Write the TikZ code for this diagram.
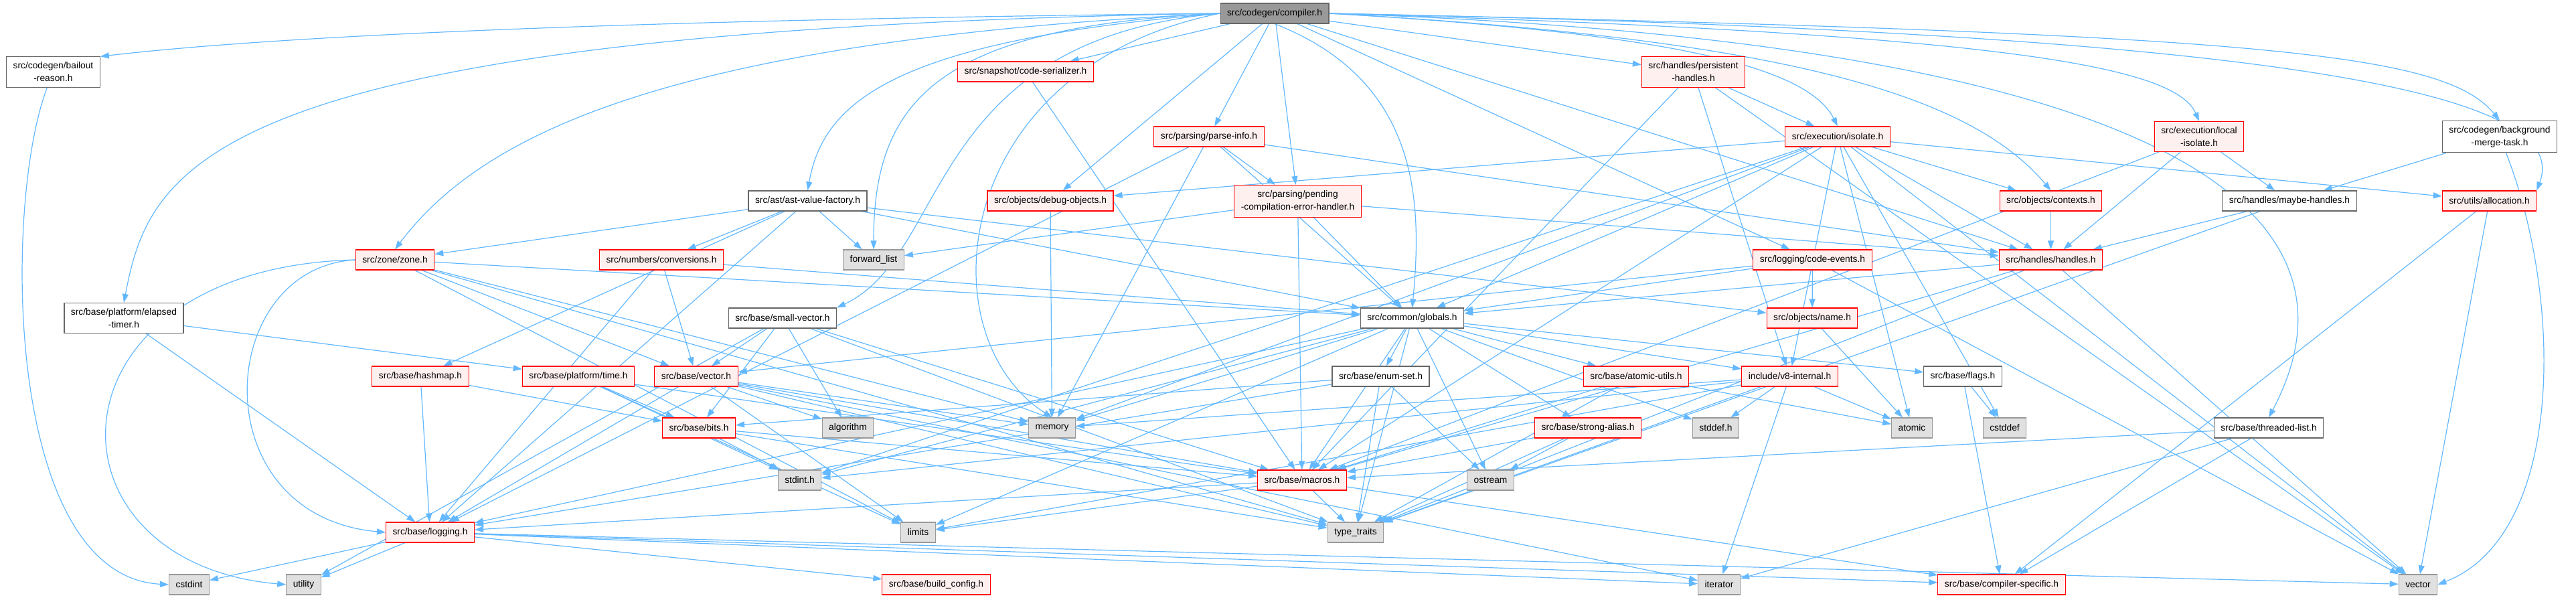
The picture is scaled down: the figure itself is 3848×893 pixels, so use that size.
\documentclass[tikz,border=0pt]{standalone}
\usepackage{fontspec}
\setmainfont{Liberation Sans}
\usetikzlibrary{arrows.meta,backgrounds}
\definecolor{edgeblue}{RGB}{99,184,255}
\definecolor{redfill}{RGB}{255,240,240}
\definecolor{sysfill}{RGB}{224,224,224}
\definecolor{sysline}{RGB}{153,153,153}
\definecolor{hdrline}{RGB}{102,102,102}
\definecolor{rootfill}{RGB}{153,153,153}

\begin{document}
\begin{tikzpicture}[x=1pt,y=-1pt,
  file/.style={draw=hdrline,fill=white,line width=1.1pt,
    font=\fontsize{13.8}{19}\selectfont,inner xsep=10pt,inner ysep=8pt,
    minimum height=30pt,align=center},
  redfile/.style={file,draw=red,fill=redfill},
  sysfile/.style={file,draw=sysline,fill=sysfill},
  rootfile/.style={file,fill=rootfill},
  incl/.style={draw=edgeblue,line width=1.2pt,-{Triangle[length=13pt,width=9pt]}}]
  \useasboundingbox (0,0) rectangle (3848,893);

  %% top rows
  \node[rootfile] (compiler) at (1904,20) {src/codegen/compiler.h};
  \node[file] (bailout) at (79.5,107.5) {src/codegen/bailout\\-reason.h};
  \node[redfile] (codeser) at (1532,107) {src/snapshot/code-serializer.h};
  \node[redfile] (persist) at (2529.5,107.5) {src/handles/persistent\\-handles.h};
  \node[file] (bgmerge) at (3734,204) {src/codegen/background\\-merge-task.h};
  \node[redfile] (localiso) at (3285,204) {src/execution/local\\-isolate.h};
  \node[redfile] (isolate) at (2745,204) {src/execution/isolate.h};
  \node[redfile] (parseinfo) at (1806,204) {src/parsing/parse-info.h};
  \node[file] (astvf) at (1206.5,300) {src/ast/ast-value-factory.h};
  \node[redfile] (debugobj) at (1569,300) {src/objects/debug-objects.h};
  \node[redfile] (pending) at (1938.5,300.5) {src/parsing/pending\\-compilation-error-handler.h};
  \node[redfile] (contexts) at (3063.5,300) {src/objects/contexts.h};
  \node[file] (maybeh) at (3420,300) {src/handles/maybe-handles.h};
  \node[redfile] (alloc) at (3718.5,300) {src/utils/allocation.h};

  %% middle rows
  \node[redfile] (zone) at (590,388) {src/zone/zone.h};
  \node[redfile] (conv) at (988,388) {src/numbers/conversions.h};
  \node[sysfile] (fwdlist) at (1305,388) {forward\_list};
  \node[redfile] (codeev) at (2707.5,388) {src/logging/code-events.h};
  \node[redfile] (handles) at (3063.5,388) {src/handles/handles.h};
  \node[file] (elapsed) at (185,475) {src/base/platform/elapsed\\-timer.h};
  \node[file] (smallvec) at (1169,475) {src/base/small-vector.h};
  \node[file] (globals) at (2109.5,475) {src/common/globals.h};
  \node[redfile] (name) at (2707,475) {src/objects/name.h};
  \node[redfile] (hashmap) at (628,562) {src/base/hashmap.h};
  \node[redfile] (ptime) at (864,562) {src/base/platform/time.h};
  \node[redfile] (bvector) at (1040,562) {src/base/vector.h};
  \node[file] (enumset) at (2062.5,562) {src/base/enum-set.h};
  \node[redfile] (atomicu) at (2444,562) {src/base/atomic-utils.h};
  \node[redfile] (v8int) at (2673.5,562) {include/v8-internal.h};
  \node[file] (bflags) at (2932,562) {src/base/flags.h};

  %% bottom rows
  \node[redfile] (bits) at (1044,639) {src/base/bits.h};
  \node[sysfile] (algorithm) at (1266.5,639) {algorithm};
  \node[sysfile] (memory) at (1571.5,639) {memory};
  \node[redfile] (strongal) at (2372,639) {src/base/strong-alias.h};
  \node[sysfile] (stddefh) at (2563,639) {stddef.h};
  \node[sysfile] (atomic) at (2856,639) {atomic};
  \node[sysfile] (cstddef) at (2994.5,639) {cstddef};
  \node[file] (thlist) at (3389,639) {src/base/threaded-list.h};
  \node[sysfile] (stdinth) at (1194.5,717) {stdint.h};
  \node[redfile] (macros) at (1945,717) {src/base/macros.h};
  \node[sysfile] (ostream) at (2226.5,717) {ostream};
  \node[redfile] (logging) at (642.5,795) {src/base/logging.h};
  \node[sysfile] (limits) at (1371.5,795) {limits};
  \node[sysfile] (typetr) at (2025,795) {type\_traits};
  \node[sysfile] (cstdint) at (282.5,873) {cstdint};
  \node[sysfile] (utility) at (453.5,873) {utility};
  \node[redfile] (buildcfg) at (1398.5,873) {src/base/build\_config.h};
  \node[sysfile] (iterator) at (2568,873) {iterator};
  \node[redfile] (compspec) at (2990,873) {src/base/compiler-specific.h};
  \node[sysfile] (vector) at (3612,873) {vector};

  %% include edges
  \begin{pgfonlayer}{background}
  % long edges of compiler.h
  \draw[incl] (compiler.west) .. controls (900,30) and (400,55) .. (bailout.north east);
  \draw[incl] (compiler.west) .. controls (300,45) and (224,250) .. (elapsed.north);
  \draw[incl] (compiler.west) .. controls (1000,60) and (720,200) .. (zone.north);
  \draw[incl] (compiler.west) .. controls (1340,60) and (1230,150) .. (astvf.north);
  \draw[incl] (compiler.west) .. controls (1380,60) and (1420,380) .. (smallvec.north east);
  \draw[incl] (compiler.west) .. controls (1400,40) and (1305,150) .. (fwdlist.north);
  \draw[incl] (compiler.west) .. controls (1420,100) and (1380,500) .. (memory.north);
  \draw[incl] (compiler.south) .. controls (2120,120) and (2125,300) .. (globals.north);
  \draw[incl] (compiler.east) .. controls (2500,50) and (2700,100) .. (isolate.north);
  \draw[incl] (compiler.east) .. controls (2700,60) and (2950,150) .. (contexts.north);
  \draw[incl] (compiler.east) .. controls (3000,50) and (3250,100) .. (localiso.north);
  \draw[incl] (compiler.east) .. controls (3400,50) and (3650,80) .. (bgmerge.north);
  \draw[incl] (compiler.east) .. controls (3500,50) and (3840,150) .. (alloc.north east);
  \draw[incl] (compiler.east) .. controls (3200,60) and (3560,300) .. (thlist.north);
  \foreach \t in {codeser,persist,parseinfo,debugobj,pending,codeev,handles}
    \draw[incl] (compiler) -- (\t);
  % remaining edges
  \draw[incl] (bailout) .. controls (5,300) and (5,860) .. (cstdint.west);
  \draw[incl] (codeser) -- (macros);
  \foreach \t in {isolate,v8int,macros,vector} \draw[incl] (persist) -- (\t);
  \foreach \t in {pending,memory,logging,globals,handles} \draw[incl] (parseinfo) -- (\t);
  \foreach \t in {debugobj,contexts,handles,alloc,globals,v8int,macros,atomic,
      cstddef,memory,vector,stdinth}
    \draw[incl] (isolate) -- (\t);
  \foreach \t in {handles,maybeh,macros} \draw[incl] (localiso) -- (\t);
  \draw[incl] (bgmerge) -- (maybeh);
  \draw[incl] (bgmerge) .. controls (3830,450) and (3830,800) .. (vector.east);
  \foreach \t in {fwdlist,conv,hashmap,logging,globals,name,zone} \draw[incl] (astvf) -- (\t);
  \draw[incl] (debugobj) -- (memory);
  \foreach \t in {fwdlist,globals,macros,handles} \draw[incl] (pending) -- (\t);
  \draw[incl] (contexts) -- (handles);
  \foreach \t in {handles,typetr} \draw[incl] (maybeh) -- (\t);
  \foreach \t in {compspec,vector} \draw[incl] (alloc) -- (\t);
  \draw[incl] (zone.west) .. controls (60,400) and (50,840) .. (utility.west);
  \draw[incl] (zone.west) .. controls (320,400) and (300,770) .. (logging.west);
  \foreach \t in {limits,memory,typetr,bvector,globals} \draw[incl] (zone) -- (\t);
  \foreach \t in {bvector,globals,logging} \draw[incl] (conv) -- (\t);
  \foreach \t in {name,globals,bvector,vector} \draw[incl] (codeev) -- (\t);
  \foreach \t in {globals,typetr,vector,macros} \draw[incl] (handles) -- (\t);
  \foreach \t in {ptime,logging} \draw[incl] (elapsed) -- (\t);
  \foreach \t in {bvector,bits,algorithm,typetr,utility,macros} \draw[incl] (smallvec) -- (\t);
  \foreach \t in {enumset,atomicu,v8int,bflags,strongal,stddefh,stdinth,limits,
      ostream,macros,logging,typetr,memory}
    \draw[incl] (globals) -- (\t);
  \draw[incl] (name) -- (atomic);
  \foreach \t in {bits,logging} \draw[incl] (hashmap) -- (\t);
  \foreach \t in {bits,stdinth,limits,macros} \draw[incl] (ptime) -- (\t);
  \foreach \t in {algorithm,memory,logging,macros,limits,typetr,iterator} \draw[incl] (bvector) -- (\t);
  \foreach \t in {bits,ostream,typetr,logging} \draw[incl] (enumset) -- (\t);
  \foreach \t in {atomic,macros,typetr} \draw[incl] (atomicu) -- (\t);
  \foreach \t in {stddefh,atomic,iterator,memory,typetr,stdinth,limits} \draw[incl] (v8int) -- (\t);
  \foreach \t in {cstddef,compspec} \draw[incl] (bflags) -- (\t);
  \foreach \t in {stdinth,macros,typetr} \draw[incl] (bits) -- (\t);
  \foreach \t in {ostream,typetr,macros} \draw[incl] (strongal) -- (\t);
  \foreach \t in {iterator,compspec,macros} \draw[incl] (thlist) -- (\t);
  \foreach \t in {typetr,limits,logging,compspec} \draw[incl] (macros) -- (\t);
  \foreach \t in {cstdint,utility,buildcfg,iterator,compspec,vector} \draw[incl] (logging) -- (\t);
  \end{pgfonlayer}
\end{tikzpicture}
\end{document}
